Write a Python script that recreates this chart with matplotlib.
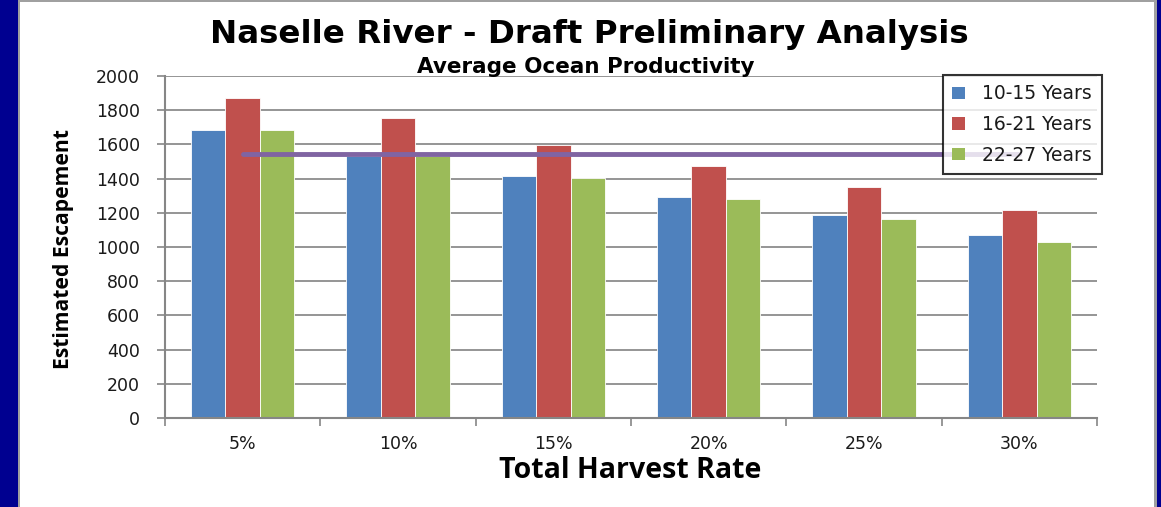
import matplotlib
matplotlib.use("Agg")
import matplotlib.pyplot as plt
import numpy as np
from matplotlib.patches import Rectangle, Patch

categories = ["5%", "10%", "15%", "20%", "25%", "30%"]
series_names = ["10-15 Years", "16-21 Years", "22-27 Years"]
s_10_15 = [1685, 1535, 1415, 1292, 1189, 1070]
s_16_21 = [1871, 1752, 1597, 1475, 1349, 1216]
s_22_27 = [1685, 1535, 1402, 1279, 1164, 1029]
goal_line = [1545, 1545, 1545, 1545, 1545, 1545]
yticks = [0, 200, 400, 600, 800, 1000, 1200, 1400, 1600, 1800, 2000]

colors = ["#4F81BD", "#C0504D", "#9BBB59"]
purple = "#8064A2"
navy = "#000090"

W, H = 1161, 507
fig = plt.figure(figsize=(W / 100, H / 100), dpi=100)
fig.patch.set_facecolor(navy)
# white panel with gray edge
fig.patches.append(Rectangle((18 / W, 0), (1157 - 18) / W, 1.0, transform=fig.transFigure,
                             facecolor="#A0A0A0", edgecolor="none", zorder=-20))
fig.patches.append(Rectangle((20 / W, 0), (1154 - 20) / W, 1 - 2 / H, transform=fig.transFigure,
                             facecolor="white", edgecolor="none", zorder=-19))

ax = fig.add_axes([165 / W, 1 - 418 / H, (1097 - 165) / W, (418 - 76) / H])
ax.set_facecolor("none")
x = np.arange(len(categories))
bw = 1 / 4.5
all_series = [s_10_15, s_16_21, s_22_27]
handles = []
for i, (vals, c, name) in enumerate(zip(all_series, colors, series_names)):
    ax.bar(x + (i - 1) * bw, vals, width=bw, color=c, edgecolor="white", linewidth=0.6,
           label=name, zorder=2)
    handles.append(Patch(facecolor=c, edgecolor="none", label=name))
ax.plot(x, goal_line, color=purple, linewidth=3.5, zorder=3, solid_capstyle="round")

ax.set_xlim(-0.5, len(categories) - 0.5)
ax.set_ylim(0, 2000)
ax.set_yticks(yticks)
ax.set_yticklabels([str(v) for v in yticks])
ax.set_xticks(x)
ax.set_xticklabels(categories)
ax.set_xticks(np.arange(-0.5, len(categories), 1.0), minor=True)
ax.tick_params(axis="x", which="major", length=0, pad=12)
ax.tick_params(axis="x", which="minor", length=6, color="#868686", width=1.2, direction="out")
ax.tick_params(axis="y", length=6, color="#868686", width=1.2, direction="out", pad=12)
for lab in ax.get_xticklabels() + ax.get_yticklabels():
    lab.set_fontfamily("DejaVu Sans")
    lab.set_fontsize(12.5)
    lab.set_color("#1a1a1a")
ax.grid(axis="y", color="#8C8C8C", linewidth=1.3, zorder=0)
ax.set_axisbelow(True)
for s in ["top", "right"]:
    ax.spines[s].set_visible(False)
for s in ["left", "bottom"]:
    ax.spines[s].set_color("#868686")
    ax.spines[s].set_linewidth(1.5)

fig.text(589 / W, 1 - 35 / H, "Naselle River - Draft Preliminary Analysis", ha="center", va="center",
         fontsize=23.4, fontweight="bold", family="DejaVu Sans", color="black")
fig.text(586 / W, 1 - 67 / H, "Average Ocean Productivity", ha="center", va="center",
         fontsize=15.5, fontweight="bold", family="DejaVu Sans", color="black")
fig.text(64 / W, 1 - 249 / H, "Estimated Escapement", ha="center", va="center", rotation=90,
         fontsize=15.2, fontweight="bold", family="Open Sans", color="black")
fig.text(630 / W, 1 - 471 / H, "Total Harvest Rate", ha="center", va="center",
         fontsize=20.5, fontweight="bold", family="Open Sans", color="black")

leg = fig.legend(handles=handles, loc="upper left", bbox_to_anchor=(943 / W, 1 - 75 / H),
                 frameon=True, fancybox=False, edgecolor="black", facecolor="white",
                 prop={"family": "DejaVu Sans", "size": 13.5}, handlelength=0.65, handleheight=0.65,
                 labelspacing=0.62, borderpad=0.5, handletextpad=0.95, borderaxespad=0)
leg.get_frame().set_linewidth(1.5)
for t in leg.get_texts():
    t.set_color("#1a1a1a")

fig.savefig("out.png", dpi=100, facecolor=fig.get_facecolor())
